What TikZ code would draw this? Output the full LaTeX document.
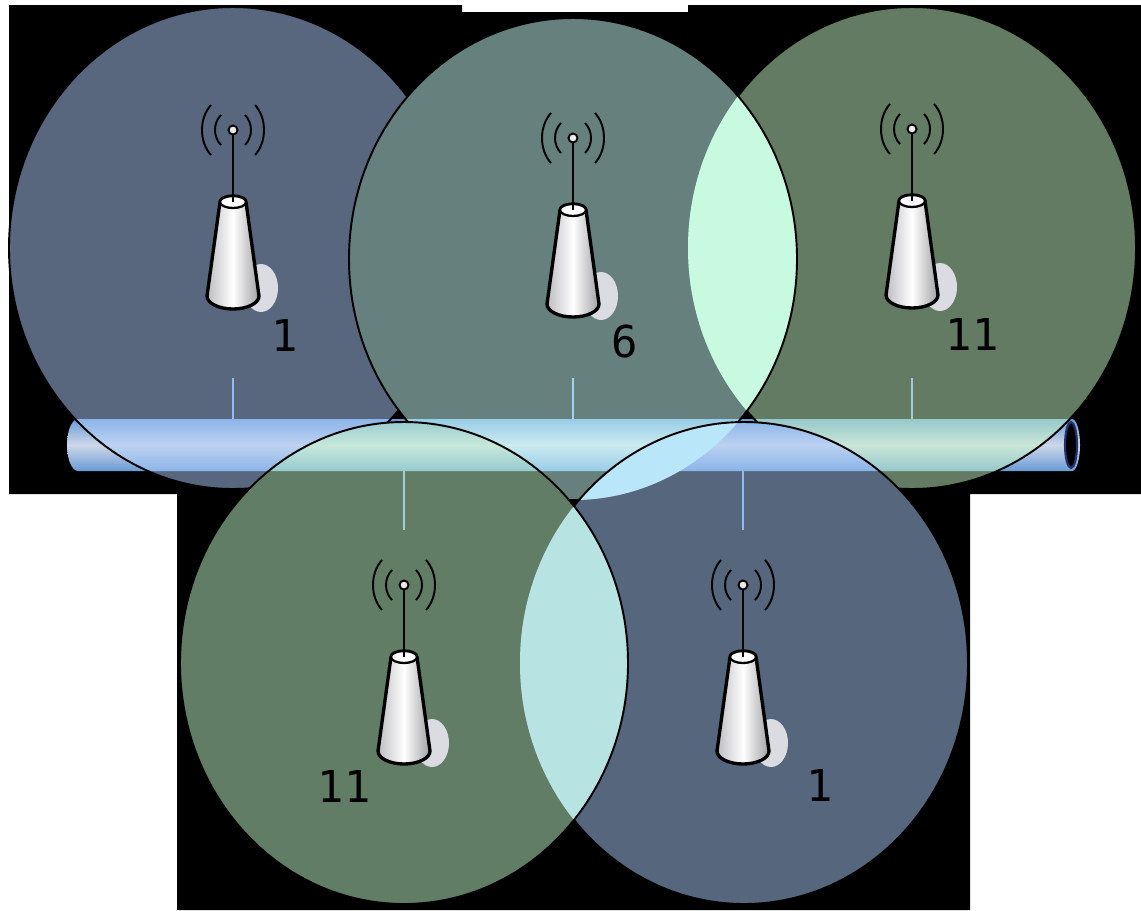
\documentclass[tikz,border=0pt]{standalone}
\usepackage{fontspec}
\usepackage{tikz}
\newfontfamily\chanfont{DejaVu Sans Mono}

\definecolor{zoneblue}{RGB}{176,206,252}
\definecolor{zonecyan}{RGB}{202,255,250}
\definecolor{zonegreen}{RGB}{198,246,198}
\definecolor{zonelime}{RGB}{195,250,205}
\definecolor{zonesky}{RGB}{170,205,250}
\definecolor{pipeblue}{RGB}{105,155,212}
\definecolor{pipelight}{RGB}{205,215,232}
\definecolor{pipedark}{RGB}{40,50,110}
\definecolor{dropblue}{RGB}{120,165,225}
\definecolor{shadowgray}{RGB}{218,220,226}
\definecolor{bodygray}{RGB}{190,190,194}

\tikzset{
  cell/.style={insert path={(#1) ellipse [x radius=224, y radius=241]}},
  rim/.style={draw=black, line width=1.1pt},
  drop/.style={dropblue, line width=1.1pt},
  wave/.style={black, line width=1.1pt},
  chan/.style={inner sep=0pt, font=\fontsize{25}{30}\chanfont}
}

% pipe, cable drops and the coverage cells
\newcommand{\coverage}{%
  \shade[top color=pipeblue, bottom color=pipeblue, middle color=pipelight]
    (78,419) -- (1072,419) arc[start angle=-90, end angle=90, x radius=8, y radius=26]
    -- (78,471) arc[start angle=90, end angle=270, x radius=11, y radius=26] -- cycle;
  \filldraw[fill=black, draw=pipedark, line width=1.2pt] (1071,445) ellipse [x radius=6, y radius=23];
  \foreach \x in {233,573,912} \draw[drop] (\x,378) -- (\x,419);
  \foreach \x in {404,743} \draw[drop] (\x,471) -- (\x,530);
  \begin{scope}[transparency group, opacity=.5]
    \fill[zoneblue, cell=c1];
    \fill[zonecyan, cell=c2];
    \fill[zonelime, cell=c4];
  \end{scope}
  \begin{scope}[transparency group, opacity=.5]
    \fill[zonegreen, cell=c3];
    \fill[zonesky, cell=c5];
  \end{scope}
  % where two channels meet
  \begin{scope}
    \clip[cell=c2];
    \fill[zonecyan!50!zonegreen, cell=c3];
    \fill[zonecyan!50!zonesky, cell=c5];
  \end{scope}
  \begin{scope}
    \clip[cell=c4];
    \fill[zonelime!50!zonesky, cell=c5];
  \end{scope}}

% paint a cell again so it hides the rims below it
\newcommand{\repaint}[1]{%
  \begin{scope}
    \clip[cell=#1];
    \fill[black] (0,0) rectangle (1141,910);
    \coverage
  \end{scope}}

% access point, #1 #2 = tip of the antenna
\newcommand{\accesspt}[2]{%
  \begin{scope}[shift={(#1,#2)}]
    \fill[shadowgray] (28,158) ellipse [x radius=17, y radius=24];
    \shadedraw[left color=bodygray, right color=bodygray!85!black, middle color=white,
      draw=black, line width=1.9pt]
      (-13,72) -- (-26,166) arc[start angle=180, end angle=0, x radius=26, y radius=13]
      -- (13,72) arc[start angle=0, end angle=-180, x radius=13, y radius=6] -- cycle;
    \filldraw[fill=white, draw=black, line width=1.3pt] (0,72) ellipse [x radius=13, y radius=6];
    \draw[line width=1.3pt] (0,72) -- (0,4);
    \filldraw[fill=gray!15, draw=black, line width=1.1pt] (0,0) circle [radius=4.5];
    \draw[wave] (-12,-15) .. controls (-20,-7) and (-20,7) .. (-12,15);
    \draw[wave] (-22,-25) .. controls (-34,-12) and (-34,12) .. (-22,25);
    \draw[wave] (12,-15) .. controls (20,-7) and (20,7) .. (12,15);
    \draw[wave] (22,-25) .. controls (34,-12) and (34,12) .. (22,25);
  \end{scope}}

\begin{document}
\begin{tikzpicture}[x=0.02cm, y=-0.02cm]
  \useasboundingbox (0,0) rectangle (1141,910);
  \fill[white] (0,0) rectangle (1141,910);
  \coordinate (c1) at (233,248);
  \coordinate (c2) at (573,259);
  \coordinate (c3) at (912,248);
  \coordinate (c4) at (404,663);
  \coordinate (c5) at (744,663);
  % backdrop
  \fill[black] (9,5) -- (462,5) -- (462,12) -- (688,12) -- (688,5) -- (1141,5)
    -- (1141,494) -- (970,494) -- (970,910) -- (177,910) -- (177,494) -- (9,494) -- cycle;
  \coverage
  % rims, each cell drawn later hides the rims under it
  \draw[rim, cell=c1];
  \draw[rim, cell=c3];
  \repaint{c2}
  \draw[rim, cell=c2];
  \repaint{c5}
  \draw[rim, cell=c5];
  \repaint{c4}
  \draw[rim, cell=c4];
  % access points and channels
  \accesspt{233}{130}
  \accesspt{573}{138}
  \accesspt{912}{129}
  \accesspt{404}{585}
  \accesspt{743}{585}
  \node[chan] (ch1) at (285,335) {1};
  \node[chan] (ch6) at (625,342) {6};
  \node[chan] (ch11) at (972,334) {11};
  \node[chan] (ch11b) at (344,786) {11};
  \node[chan] (ch1b) at (820,785) {1};
\end{tikzpicture}
\end{document}
